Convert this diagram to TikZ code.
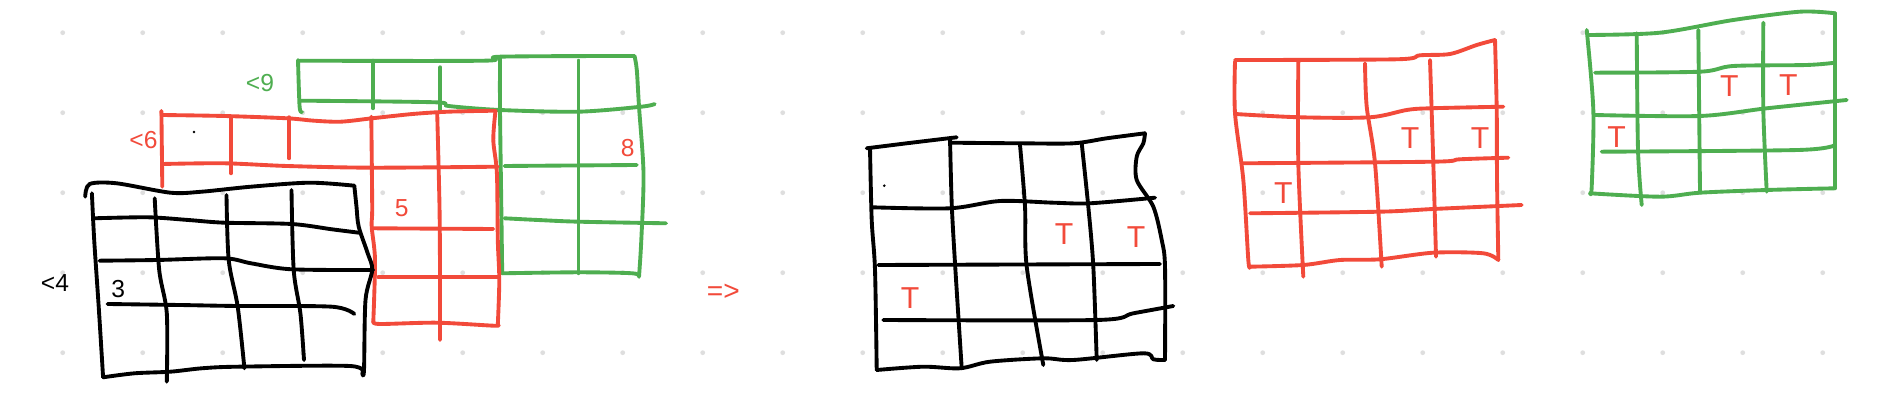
\documentclass[tikz,border=0pt]{standalone}
\usepackage{fontspec}
\setmainfont{Liberation Sans}
\definecolor{penred}{RGB}{242,74,58}
\definecolor{pengreen}{RGB}{78,174,80}
\definecolor{dotgrey}{RGB}{222,222,222}
\tikzset{
  pen/.style={line width=1.1pt, line cap=round, line join=round},
  blk/.style={pen, black},
  rd/.style={pen, penred},
  gr/.style={pen, pengreen},
  num/.style={inner sep=0pt, font=\fontsize{7}{8}\selectfont},
  tee/.style={inner sep=0pt, text=penred, font=\fontsize{8.6}{10}\selectfont}
}

\begin{document}
\begin{tikzpicture}[x=0.01cm, y=-0.01cm]
  \fill[white] (0,0) rectangle (1892,410);
  \useasboundingbox (0,0) rectangle (1892,410);
  % dotted paper
  \foreach \i in {0,...,22}
    \foreach \j in {0,...,4}
      \fill[dotgrey] (62.7+80*\i, 32.7+80*\j) circle (2.4);

  % ---- left: green layer
  \draw[gr] plot[smooth] coordinates {(298,60) (299.6,106.7) (302,112)};               % left
  \draw[gr] plot[smooth] coordinates {(299.6,60.7) (484.3,60.7) (500,56.7) (634.5,56)}; % top
  \draw[gr] plot[smooth] coordinates {(634.5,56) (636.8,70) (639,106.7) (643.5,173.3) (641.3,240) (639,276.7)}; % right
  \draw[gr] plot[smooth] coordinates {(502.2,273.3) (578.5,272.3) (632.3,273.3) (639,276.7)}; % bottom
  \draw[gr] plot[smooth] coordinates {(500,56.7) (500,110) (501.3,206.7) (502.2,273.3)};
  \draw[gr] (373.1,60.7) -- (373.1,108.3);
  \draw[gr] (440.4,67.3) -- (440.4,111.7);
  \draw[gr] (578.5,60.7) -- (578.5,273.3);
  \draw[gr] plot[smooth] coordinates {(301.3,100.7) (435,102.3) (448.4,106) (500,110) (578.5,111.7) (641.3,106.7) (654.7,104)};
  \draw[gr] plot[smooth] coordinates {(504.5,166) (636.8,165)};
  \draw[gr] plot[smooth] coordinates {(504.5,218.3) (538,220) (578.5,221.7) (666,223.3)};

  % ---- left: red layer
  \draw[rd] (161.4,111) -- (162.3,186.7);
  \draw[rd] plot[smooth] coordinates {(161.4,115) (224.2,116) (287,118.3) (313.9,120.7) (340.8,121.7) (372.2,118.3) (412.6,114) (448.4,111.7) (495.5,110.7)}; % top
  \draw[rd] plot[smooth] coordinates {(495.5,110.7) (493.3,140) (496.9,173.3) (497.8,240) (499.3,280) (497.8,325)}; % right
  \draw[rd] plot[smooth] coordinates {(373.3,321.7) (380,324) (436.7,322.7) (493.3,325.7) (497.8,325)}; % bottom
  \draw[rd] plot[smooth] coordinates {(371.3,116.7) (372.2,206.7) (371.7,226.7) (375,260) (373.3,321.7)};
  \draw[rd] (231,118.3) -- (231,173.3);
  \draw[rd] (289.2,117.3) -- (289.2,158.3);
  \draw[rd] plot[smooth] coordinates {(437.2,113.3) (439.5,206.7) (440,276.7) (440,340)};
  \draw[rd] plot[smooth] coordinates {(162.3,164) (224.2,163.3) (287,166) (372.2,167.7) (497.8,166.7)};
  \draw[rd] (373.3,228.3) -- (493.3,229);
  \draw[rd] (378.3,277.3) -- (498.3,277.3);
  \fill[black] (194,132) circle (1.4);

  % ---- left: black layer
  \draw[blk] plot[smooth] coordinates {(85.2,196.7) (89.7,184) (116.6,183.3) (170.4,192.7) (201.8,191.7) (251,186.7) (309.4,182.7) (354.3,185.7)}; % top
  \draw[blk] plot[smooth] coordinates {(354.3,185.7) (356.5,206.7) (358.7,226.7) (367.7,253.3) (372.2,270) (365.5,300) (364,370) (362.3,373.3)}; % right
  \draw[blk] plot[smooth] coordinates {(103.1,377.3) (134.5,373.3) (170.4,371.7) (201.8,368.3) (237.7,366.7) (349.8,366) (362.3,373.3)}; % bottom
  \draw[blk] plot[smooth] coordinates {(91.9,193.3) (94.2,240) (98.7,306.7) (103.1,377.3)}; % left
  \draw[blk] plot[smooth] coordinates {(154.7,198.3) (159.2,270) (166.8,313.3) (166.8,381.7)};
  \draw[blk] plot[smooth] coordinates {(226.5,195) (228.7,260) (237.7,306.7) (244.4,368.3)};
  \draw[blk] plot[smooth] coordinates {(291.5,190) (293.7,270) (300.4,313.3) (304,360)};
  \draw[blk] plot[smooth] coordinates {(94.2,218.3) (148,217.3) (188.3,220) (224.2,222.7) (291.5,224) (331.8,229.3) (358.7,232.7)};
  \draw[blk] plot[smooth] coordinates {(99.6,260.7) (157,260) (224.2,258.3) (251,263.3) (291.5,269.3) (373.1,270)};
  \draw[blk] plot[smooth] coordinates {(107.6,304) (179.4,305) (237.7,306) (331.8,306.7) (354.3,314)};

  \node[num, text=pengreen] (lt9) at (260,82.7) {<9};
  \node[num, text=penred] (lt6) at (143.5,140) {<6};
  \node[num, text=penred] (n8) at (627.8,148.3) {8};
  \node[num, text=penred] (n5) at (401.7,208.3) {5};
  \node[num] (lt4) at (55,282.7) {<4};
  \node[num] (n3) at (118.3,289.3) {3};

  \node[inner sep=0pt, text=penred, font=\fontsize{8}{10}\selectfont] (implies) at (723.3,292.3) {=>};

  % ---- right: black tile
  \draw[blk] plot[smooth] coordinates {(866.7,148.3) (906.7,143.3) (956.7,137.3)};
  \draw[blk] plot[smooth] coordinates {(950,142.7) (1020,143.3) (1073.3,143.3) (1106.7,138.3) (1145,133.3)}; % top
  \draw[blk] plot[smooth] coordinates {(1145,133.3) (1143.3,143.3) (1136.7,156.7) (1136.7,180) (1153.3,206.7) (1161.7,240) (1165,266.7) (1165,360)}; % right
  \draw[blk] plot[smooth] coordinates {(876.7,370) (923.3,366.7) (960,368.3) (990,361.7) (1043.3,358.3) (1073.3,360) (1143.3,353.3) (1153.3,359.3) (1165,360)}; % bottom
  \draw[blk] plot[smooth] coordinates {(870,148.3) (871.7,220) (875,270) (876.7,370)}; % left
  \draw[blk] plot[smooth] coordinates {(950,138.3) (951.7,203.3) (955,263.3) (961.7,368.3)};
  \draw[blk] plot[smooth] coordinates {(1020,145) (1025,206.7) (1026.7,266.7) (1043.3,365)};
  \draw[blk] plot[smooth] coordinates {(1081.7,143.3) (1088.3,206.7) (1093.3,266.7) (1096.7,360)};
  \draw[blk] plot[smooth] coordinates {(871.7,207.3) (950,208.3) (1000,201) (1053.3,202.7) (1090,203.3) (1155,197.7)};
  \draw[blk] (878.3,265) -- (1160,264);
  \draw[blk] plot[smooth] coordinates {(883.3,320) (1096.7,320) (1133.3,313.3) (1173.3,306)};
  \fill[black] (884.3,185.7) circle (1.4);
  \node[tee] (tk1) at (1064,234) {T};
  \node[tee] (tk2) at (1136,237.3) {T};
  \node[tee] (tk3) at (910,298.3) {T};

  % ---- right: red tile
  \draw[rd] plot[smooth] coordinates {(1235,60) (1396.7,59.3) (1420,55.3) (1450,54) (1476.7,45) (1495,40)}; % top
  \draw[rd] plot[smooth] coordinates {(1495,40) (1496.7,110) (1497,180) (1498.3,260)}; % right
  \draw[rd] plot[smooth] coordinates {(1250,266.7) (1303.3,265) (1340,260) (1380,259.3) (1433.3,252.7) (1483.3,253.3) (1498.3,260)}; % bottom
  \draw[rd] plot[smooth] coordinates {(1235,61.7) (1235,113.3) (1243.3,180) (1248.3,260) (1250,266.7)}; % left
  \draw[rd] plot[smooth] coordinates {(1298.3,61.7) (1298.3,163.3) (1303.3,276.7)};
  \draw[rd] plot[smooth] coordinates {(1365,63.3) (1366.7,106.7) (1375,163.3) (1381.7,266.7)};
  \draw[rd] plot[smooth] coordinates {(1430,60) (1433.3,163.3) (1436,256.7)};
  \draw[rd] plot[smooth] coordinates {(1235,114) (1300,117.3) (1370,117.3) (1406.7,110) (1430,108.3) (1503.3,106.7)};
  \draw[rd] plot[smooth] coordinates {(1241.7,163.3) (1433.3,161.7) (1460,159.3) (1508.3,157.7)};
  \draw[rd] plot[smooth] coordinates {(1250,213.3) (1380,211.7) (1433.3,209) (1521.7,205)};
  \node[tee] (tr1) at (1410,138.3) {T};
  \node[tee] (tr2) at (1480,138.3) {T};
  \node[tee] (tr3) at (1283.3,193.3) {T};

  % ---- right: green tile
  \draw[gr] plot[smooth] coordinates {(1588.3,35) (1660,32.7) (1733.3,20) (1800,11.7) (1835,13.3)}; % top
  \draw[gr] plot[smooth] coordinates {(1586.7,30) (1593.3,110) (1591.7,186.7) (1590,193.3)}; % left
  \draw[gr] plot[smooth] coordinates {(1835,13.3) (1835,143.3) (1835,188.3)}; % right
  \draw[gr] plot[smooth] coordinates {(1590,193.3) (1660,196.7) (1700,192.7) (1766.7,190) (1835,188.3)}; % bottom
  \draw[gr] plot[smooth] coordinates {(1636.7,33.3) (1638,150) (1641.7,205)};
  \draw[gr] (1698.3,30) -- (1700,192.7);
  \draw[gr] plot[smooth] coordinates {(1763.3,22.7) (1763.3,110) (1766.7,191.7)};
  \draw[gr] plot[smooth] coordinates {(1595,72.7) (1700,71.7) (1733.3,66) (1806.7,65) (1835,62.7)};
  \draw[gr] plot[smooth] coordinates {(1595,115) (1700,116) (1766.7,108.3) (1846.7,100)};
  \draw[gr] plot[smooth] coordinates {(1601.7,151.7) (1798.3,150) (1835,145)};
  \node[tee] (tg1) at (1729.3,86) {T};
  \node[tee] (tg2) at (1788.3,85) {T};
  \node[tee] (tg3) at (1616.7,136.7) {T};
\end{tikzpicture}
\end{document}
